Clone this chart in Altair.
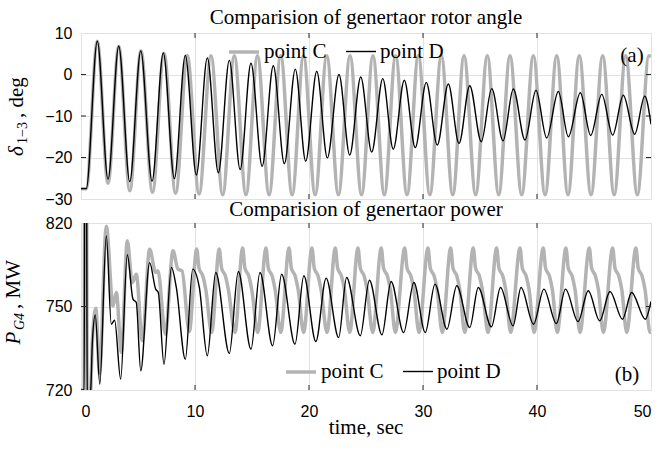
import altair as alt
import pandas as pd

SERIF = "Liberation Serif"
SANS = "Liberation Sans"
GRAY = "#b3b3b3"
FRAME = "#262626"
GRID = "#e2e2e2"

# ---------------- top panel: rotor angle delta_1-3 (deg) ----------------
ang_C_t = [0, 0.46, 1.43, 2.37, 3.31, 4.28, 5.26, 6.27, 7.28, 8.30, 9.32, 10.36,
           11.40, 12.43, 13.45, 14.47, 15.48, 16.50, 17.52, 18.52, 19.52, 20.54,
           21.56, 22.58, 23.60, 24.61, 25.61, 26.61, 27.60, 28.60, 29.59, 30.60,
           31.61, 32.61, 33.60, 34.62, 35.64, 36.64, 37.63, 38.66, 39.68, 40.71,
           41.73, 42.72, 43.71, 44.74, 45.76, 46.77, 47.78, 48.80, 49.82, 50.0]
ang_C_v = [-27.5, -27.5, 8.0, -26.2, 6.8, -28.0, 5.7, -28.4, 5.1, -28.6, 4.6, -28.8,
           4.5, -29.0, 4.5, -29.0, 4.5, -29.0, 4.5, -29.0, 4.5, -29.0,
           4.5, -29.0, 4.5, -29.0, 4.5, -29.0, 4.5, -29.0, 4.5, -29.0,
           4.5, -29.0, 4.5, -29.0, 4.5, -29.0, 4.5, -29.0, 4.5, -29.0,
           4.5, -29.0, 4.5, -29.0, 4.5, -29.0, 4.5, -29.0, 4.5, 4.2]

ang_D_t = [0, 0.46, 1.43, 2.37, 3.31, 4.28, 5.24, 6.23, 7.22, 8.19, 9.15, 10.12,
           11.08, 12.05, 13.01, 13.96, 14.91, 15.89, 16.87, 17.84, 18.80, 19.71,
           20.68, 21.61, 22.63, 23.57, 24.54, 25.50, 26.47, 27.39, 28.36, 29.32,
           30.29, 31.25, 32.22, 33.16, 34.10, 35.11, 36.03, 37.02, 37.92, 38.95,
           39.91, 40.85, 41.87, 42.75, 43.80, 44.71, 45.68, 46.64, 47.57, 48.57,
           49.45, 50.0]
ang_D_v = [-27.5, -27.5, 8.0, -25.2, 6.8, -25.8, 5.7, -25.7, 5.2, -25.1, 4.6, -24.2,
           4.0, -23.7, 3.4, -22.9, 2.7, -22.1, 2.1, -21.5, 1.3, -20.9,
           0.8, -20.1, 0.0, -19.4, -0.6, -18.7, -1.0, -18.0, -1.4, -17.6,
           -1.9, -17.0, -2.3, -16.6, -2.7, -16.2, -3.4, -16.0, -3.5, -15.8,
           -3.8, -15.3, -4.1, -15.0, -4.4, -14.7, -4.8, -14.6, -5.0, -14.4,
           -5.2, -12.0]

# ---------------- bottom panel: generator power P_G4 ----------------
pow_C_t = [0, 0.28, 0.33, 0.47, 0.55, 0.85, 1.0, 1.3, 1.62, 2.22, 2.81, 3.1, 3.54,
           4.06, 4.5, 4.85, 5.38, 6.02, 6.55, 6.75, 7.4, 8.07, 8.5, 8.86, 9.5,
           10.15, 10.35, 10.70, 10.95, 11.46,
           12.13, 12.33, 12.68, 12.93, 13.51,
           14.18, 14.38, 14.73, 14.98, 15.50,
           16.23, 16.43, 16.78, 17.03, 17.52,
           18.25, 18.45, 18.80, 19.05, 19.53,
           20.26, 20.46, 20.81, 21.06, 21.58,
           22.31, 22.51, 22.86, 23.11, 23.57,
           24.30, 24.50, 24.85, 25.10, 25.59,
           26.34, 26.54, 26.89, 27.14, 27.57,
           28.40, 28.60, 28.95, 29.20, 29.65,
           30.44, 30.64, 30.99, 31.24, 31.69,
           32.43, 32.63, 32.98, 33.23, 33.66,
           34.41, 34.61, 34.96, 35.21, 35.70,
           36.46, 36.66, 37.01, 37.26, 37.69,
           38.51, 38.71, 39.06, 39.31, 39.74,
           40.55, 40.75, 41.10, 41.35, 41.78,
           42.54, 42.74, 43.09, 43.34, 43.77,
           44.59, 44.79, 45.14, 45.39, 45.82,
           46.64, 46.84, 47.19, 47.44, 47.87,
           48.68, 48.88, 49.23, 49.48, 49.91,
           50.0]
pow_C_v = [700, 700, 870, 870, 690, 700, 730, 749, 710, 798, 750.4, 758.4, 722.5,
           789.3, 764.4, 769.3, 729.5, 784.3, 770.4, 771.4, 733.4, 783.4, 772.4, 771.4, 735.0,
           784.5, 773, 768, 760, 734.5,
           784.5, 773, 768, 760, 734.5,
           785, 773, 768, 760, 734.5,
           785, 773, 768, 760, 734.5,
           785, 773, 768, 760, 734.5,
           785, 773, 768, 760, 734.5,
           785, 773, 768, 760, 734.5,
           785, 773, 768, 760, 734.5,
           785, 773, 768, 760, 734.5,
           785, 773, 768, 760, 734.5,
           785, 773, 768, 760, 734.5,
           785, 773, 768, 760, 734.5,
           785, 773, 768, 760, 734.5,
           785, 773, 768, 760, 734.5,
           785, 773, 768, 760, 734.5,
           785, 773, 768, 760, 734.5,
           785, 773, 768, 760, 734.5,
           785, 773, 768, 760, 734.5,
           785, 773, 768, 760, 734.5,
           785, 773, 768, 760, 734.5,
           735]

pow_D_t = [0, 0.28, 0.33, 0.47, 0.55, 0.85, 1.0, 1.25, 1.65, 2.22, 2.66, 2.95, 3.48,
           4.06, 4.56, 4.85, 5.24, 6.02, 6.55, 6.78, 7.28, 7.93, 8.36, 9.15,
           9.8, 10.38, 11.08, 11.82, 13.01, 13.8, 14.91, 15.7, 16.81, 17.6, 18.77,
           19.55, 20.6, 21.5, 22.6, 23.3, 24.5, 25.3, 26.4, 27.2, 28.3, 29.2, 30.2,
           31.05, 32.1, 32.96, 34.1, 34.85, 36.0, 36.8, 37.9, 38.6, 39.7, 40.6,
           41.7, 42.5, 43.6, 44.5, 45.5, 46.4, 47.5, 48.3, 49.5, 50.0]
pow_D_v = [700, 700, 870, 870, 690, 700, 729, 745, 703.5, 792.3, 739.4, 741.8, 706.5,
           781, 754.4, 752.4, 711.5, 776.3, 760.4, 758.4, 715.4, 773.4, 761.4, 718.4,
           772.4, 761.4, 720.5, 770.4, 721.9, 771.0, 724.4, 770.4, 726.5, 769.3, 727.4,
           768.4, 729.0, 767.0, 731.4, 767.4, 732.5, 765.7, 733.0, 765.0, 734.4, 764.4, 734.4,
           763.4, 736.4, 762.4, 737.4, 761.4, 737.8, 761.4, 738.4, 761.4, 739.4, 760.4,
           739.8, 760.4, 741.0, 759.4, 741.4, 759.0, 742.4, 758.4, 742.4, 753.0]

series_names = ["point C", "point D"]
series_colors = [GRAY, "#000000"]
series_widths = [3.5, 1.4]
x_ticks = [0, 10, 20, 30, 40, 50]
x_inner_ticks = [10, 20, 30, 40]
ang_ticks = [-30, -20, -10, 0, 10]
ang_inner_ticks = [-20, -10, 0]
pow_ticks = [700, 750, 800]
pow_inner_ticks = [750]

FS = 21  # serif text size
W, H_TOP, H_BOT = 570, 166, 167


def frame(t, v, name):
    return pd.DataFrame({"t": t, "v": v, "series": name})


ang_df = pd.concat([frame(ang_C_t, ang_C_v, "point C"), frame(ang_D_t, ang_D_v, "point D")])
pow_df = pd.concat([frame(pow_C_t, pow_C_v, "point C"), frame(pow_D_t, pow_D_v, "point D")])


def legend(x, y):
    return alt.Legend(orient="none", legendX=x, legendY=y, direction="horizontal",
                      title=None, symbolType="stroke", symbolSize=900,
                      labelFont=SERIF, labelFontSize=FS, labelColor="black",
                      labelOffset=3, columnPadding=16, padding=0)


def panel_layers(df, ydomain, yaxis, xaxis, leg, y_inner, height):
    color = alt.Color("series:N", scale=alt.Scale(domain=series_names, range=series_colors), legend=leg)
    width = alt.StrokeWidth("series:N", scale=alt.Scale(domain=series_names, range=series_widths), legend=leg)
    x = alt.X("t:Q", scale=alt.Scale(domain=[0, 50], nice=False), axis=xaxis)
    y = alt.Y("v:Q", scale=alt.Scale(domain=ydomain, nice=False, zero=False), axis=yaxis)
    layers = []
    for name in series_names:
        layers.append(
            alt.Chart(df[df.series == name]).mark_line(interpolate="monotone", clip=True)
            .encode(x=x, y=y, color=color, strokeWidth=width, order=alt.Order("t:Q"))
        )
    # inward tick marks on the box (MATLAB style)
    xt = pd.DataFrame({"t": x_inner_ticks})
    yt = pd.DataFrame({"v": y_inner})
    rule = dict(color=FRAME, strokeWidth=1)
    layers.append(alt.Chart(xt).mark_rule(**rule).encode(x=x, y=alt.value(0), y2=alt.value(5)))
    layers.append(alt.Chart(xt).mark_rule(**rule).encode(x=x, y=alt.value(height - 5), y2=alt.value(height)))
    layers.append(alt.Chart(yt).mark_rule(**rule).encode(y=y, x=alt.value(0), x2=alt.value(5)))
    layers.append(alt.Chart(yt).mark_rule(**rule).encode(y=y, x=alt.value(W - 5), x2=alt.value(W)))
    return layers


def label_text(txt, x, y, size=FS, italic=False, angle=0, align="center", baseline="middle"):
    return alt.Chart(pd.DataFrame({"s": [txt]})).mark_text(
        font=SERIF, fontSize=size, fontStyle="italic" if italic else "normal",
        angle=angle, align=align, baseline=baseline, color="black"
    ).encode(x=alt.value(x), y=alt.value(y), text="s:N")


top_xaxis = alt.Axis(values=x_ticks, labels=False, ticks=False, domain=False, title=None,
                     grid=True, gridColor=GRID)
top_yaxis = alt.Axis(values=ang_ticks, labelFont=SANS, labelFontSize=16, labelColor="black",
                     tickSize=0, labelPadding=9, domain=False, title=None, grid=True, gridColor=GRID)

bot_xaxis = alt.Axis(values=x_ticks, labelFont=SANS, labelFontSize=16, labelColor="black",
                     tickSize=0, labelPadding=13, domain=False, grid=True, gridColor=GRID, title=None)
bot_yaxis = alt.Axis(values=pow_ticks, labelFont=SANS, labelFontSize=16, labelColor="black",
                     tickSize=0, labelPadding=9, domain=False, title=None, grid=True, gridColor=GRID,
                     labelExpr="datum.value == 700 ? '720' : datum.value == 800 ? '820' : '750'")

top = alt.layer(
    *panel_layers(ang_df, [-30, 10], top_yaxis, top_xaxis, legend(146, 2), ang_inner_ticks, H_TOP),
    label_text("(a)", 551, 23, size=FS),
    label_text("δ", -58, 123, italic=True, angle=270, align="left", baseline="alphabetic"),
    label_text("1−3", -54, 111, size=14, angle=270, align="left", baseline="alphabetic"),
    label_text(", deg", -58, 85, angle=270, align="left", baseline="alphabetic"),
).properties(width=W, height=H_TOP,
             title=alt.TitleParams("Comparision of genertaor rotor angle", font=SERIF, fontSize=FS,
                                   fontWeight="normal", color="black", offset=-3))

bottom = alt.layer(
    *panel_layers(pow_df, [700, 800], bot_yaxis, bot_xaxis, legend(203, 132), pow_inner_ticks, H_BOT),
    label_text("(b)", 546, 152, size=FS),
    label_text("P", -61, 121.5, italic=True, angle=270, align="left", baseline="alphabetic"),
    label_text("G4", -57, 107, size=14, italic=True, angle=270, align="left", baseline="alphabetic"),
    label_text(", MW", -61, 86, angle=270, align="left", baseline="alphabetic"),
    label_text("time, sec", W / 2, H_BOT + 38),
).properties(width=W, height=H_BOT,
             title=alt.TitleParams("Comparision of genertaor power", font=SERIF, fontSize=FS,
                                   fontWeight="normal", color="black", offset=-5))

chart = alt.vconcat(top, bottom, spacing=-10).resolve_legend(
    color="independent", strokeWidth="independent"
).properties(
    padding={"left": 2, "top": 6, "right": 0, "bottom": 0}
).configure_view(stroke=FRAME, strokeWidth=1).configure(background="white")

chart.save("out.html", embed_options={"renderer": "svg", "actions": False})
